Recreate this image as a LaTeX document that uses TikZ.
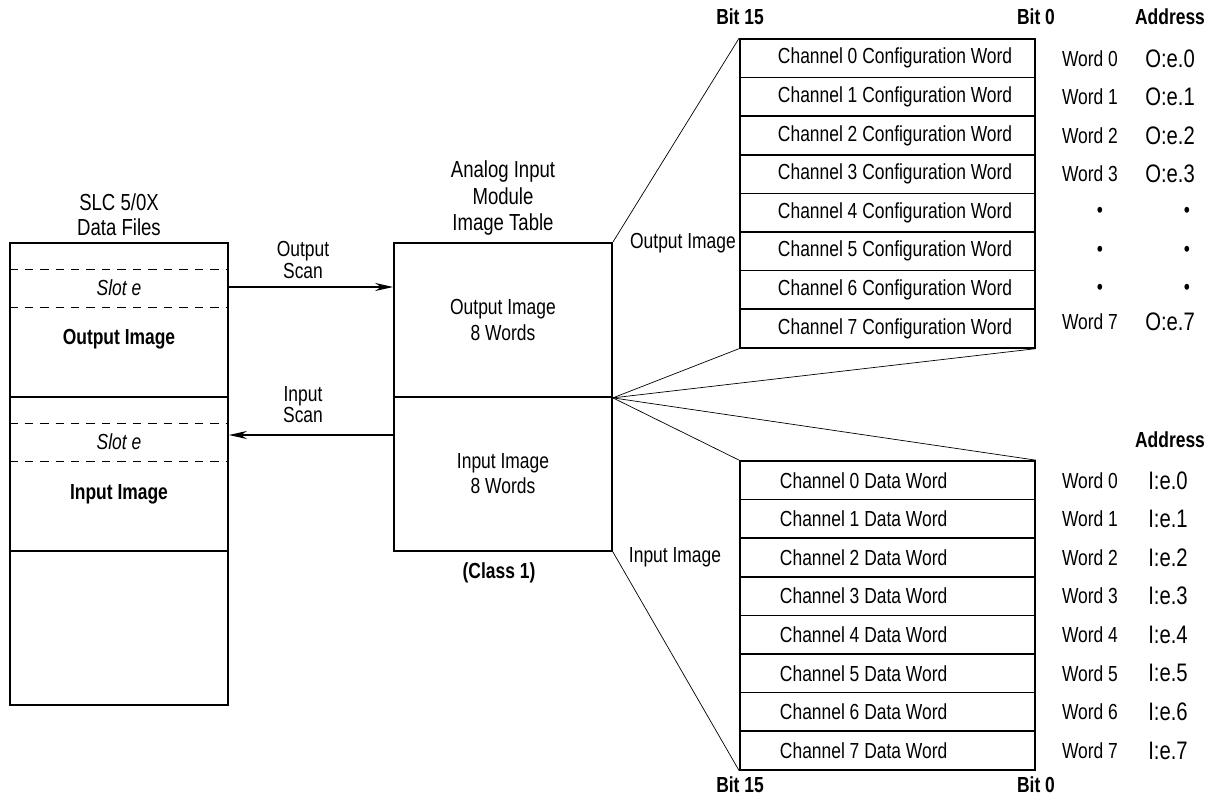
\documentclass[tikz,border=0pt]{standalone}
\usepackage{fontspec}
\setmainfont[FakeStretch=0.8]{Liberation Sans}
\usetikzlibrary{arrows.meta,positioning}
\newcommand\rowtext[2]{\makebox[7.375cm][l]{\hspace*{#1}#2}}

\begin{document}
\begin{tikzpicture}[x=0.025cm,y=-0.025cm,line width=1.2pt,>={Stealth[length=4.5mm,width=2mm]},
  every node/.style={font=\fontsize{15.5}{18}\selectfont},
  sect/.style={draw,minimum width=5.45cm,minimum height=3.85cm,inner sep=0pt,align=center,font=\fontsize{15.5}{17.8}\selectfont},
  wrow/.style={draw,minimum width=7.375cm,minimum height=0.965cm,inner sep=0pt},
  thin/.style={line width=0.5pt},
  slot/.style={line width=0.6pt,dash pattern=on 6pt off 5pt},
  hdr/.style={font=\bfseries\fontsize{15.5}{18}\selectfont},
  addr/.style={font=\fontsize{18}{20}\selectfont}]
  \useasboundingbox (0,0) rectangle (1209,796);
  % SLC data files
  \node[align=center,font=\fontsize{16.5}{17.8}\selectfont] (dftitle) at (119,215) {SLC 5/0X\\Data Files};
  \node[sect] (dfout) at (119,320) {};
  \node[sect] (dfin) at (119,474) {};
  \node[sect] (dfrest) at (119,628) {};
  \draw[slot] (dfout.west |- 0,269) -- (dfout.east |- 0,269);
  \draw[slot] (dfout.west |- 0,307) -- (dfout.east |- 0,307);
  \draw[slot] (dfin.west |- 0,423) -- (dfin.east |- 0,423);
  \draw[slot] (dfin.west |- 0,461) -- (dfin.east |- 0,461);
  \node (slotout) at (119,288) {\itshape Slot e};
  \node[hdr] (dfoutlbl) at (119,339) {Output Image};
  \node (slotin) at (119,442) {\itshape Slot e};
  \node[hdr] (dfinlbl) at (119,494) {Input Image};
  % module image table
  \node[align=center,font=\fontsize{16.5}{18.5}\selectfont] (mtitle) at (503,198) {Analog Input\\Module\\Image Table};
  \node[sect] (mout) at (503,320) {Output Image\\8 Words};
  \node[sect] (min) at (503,474) {Input Image\\8 Words};
  \node[hdr] (mclass) at (499,573) {(Class 1)};
  % scans
  \draw[->] (dfout.east |- 0,287) -- (mout.west |- 0,287);
  \draw[->] (min.west |- 0,435) -- (dfin.east |- 0,435);
  \node[align=center,font=\fontsize{15.5}{15}\selectfont] (oscan) at (303,260) {Output\\Scan};
  \node[align=center,font=\fontsize{15.5}{15}\selectfont] (iscan) at (303,405) {Input\\Scan};
  % output words
  \foreach \i in {0,...,7}
    \node[wrow] (o\i) at (887.5,{58.3+38.6*\i}) {\rowtext{0.95cm}{Channel \i\ Configuration Word}};
  \foreach \i in {0,...,3}{
    \node (ow\i) at (1090,{58.3+38.6*\i}) {Word \i};
    \node[addr] (oa\i) at (1170,{58.3+38.6*\i}) {O:e.\i};}
  \foreach \i in {4,...,6}{
    \node (owd\i) at (1100,{58.3+38.6*\i}) {•};
    \node (oad\i) at (1187,{58.3+38.6*\i}) {•};}
  \node (ow7) at (1090,322) {Word 7};
  \node[addr] (oa7) at (1170,322) {O:e.7};
  % input words
  \foreach \i in {0,...,7}{
    \node[wrow] (i\i) at (887.5,{480.3+38.6*\i}) {\rowtext{1cm}{Channel \i\ Data Word}};
    \node (iw\i) at (1090,{480.3+38.6*\i}) {Word \i};
    \node[addr] (ia\i) at (1168,{480.3+38.6*\i}) {I:e.\i};}
  % headers
  \node[hdr] (obit15) at (740,17) {Bit 15};
  \node[hdr] (obit0) at (1036,17) {Bit 0};
  \node[hdr] (oaddr) at (1170,17) {Address};
  \node[hdr] (iaddr) at (1170,440) {Address};
  \node[hdr] (ibit15) at (740,785) {Bit 15};
  \node[hdr] (ibit0) at (1036,785) {Bit 0};
  \node (oimg) at (683,243) {Output Image};
  \node (iimg) at (675,557) {Input Image};
  % fan lines
  \draw[thin] (mout.north east) -- (o0.north west);
  \draw[thin] (mout.south east) -- (o7.south west);
  \draw[thin] (mout.south east) -- (o7.south east);
  \draw[thin] (mout.south east) -- (i0.north east);
  \draw[thin] (mout.south east) -- (i0.north west);
  \draw[thin] (min.south east) -- (i7.south west);
\end{tikzpicture}
\end{document}
